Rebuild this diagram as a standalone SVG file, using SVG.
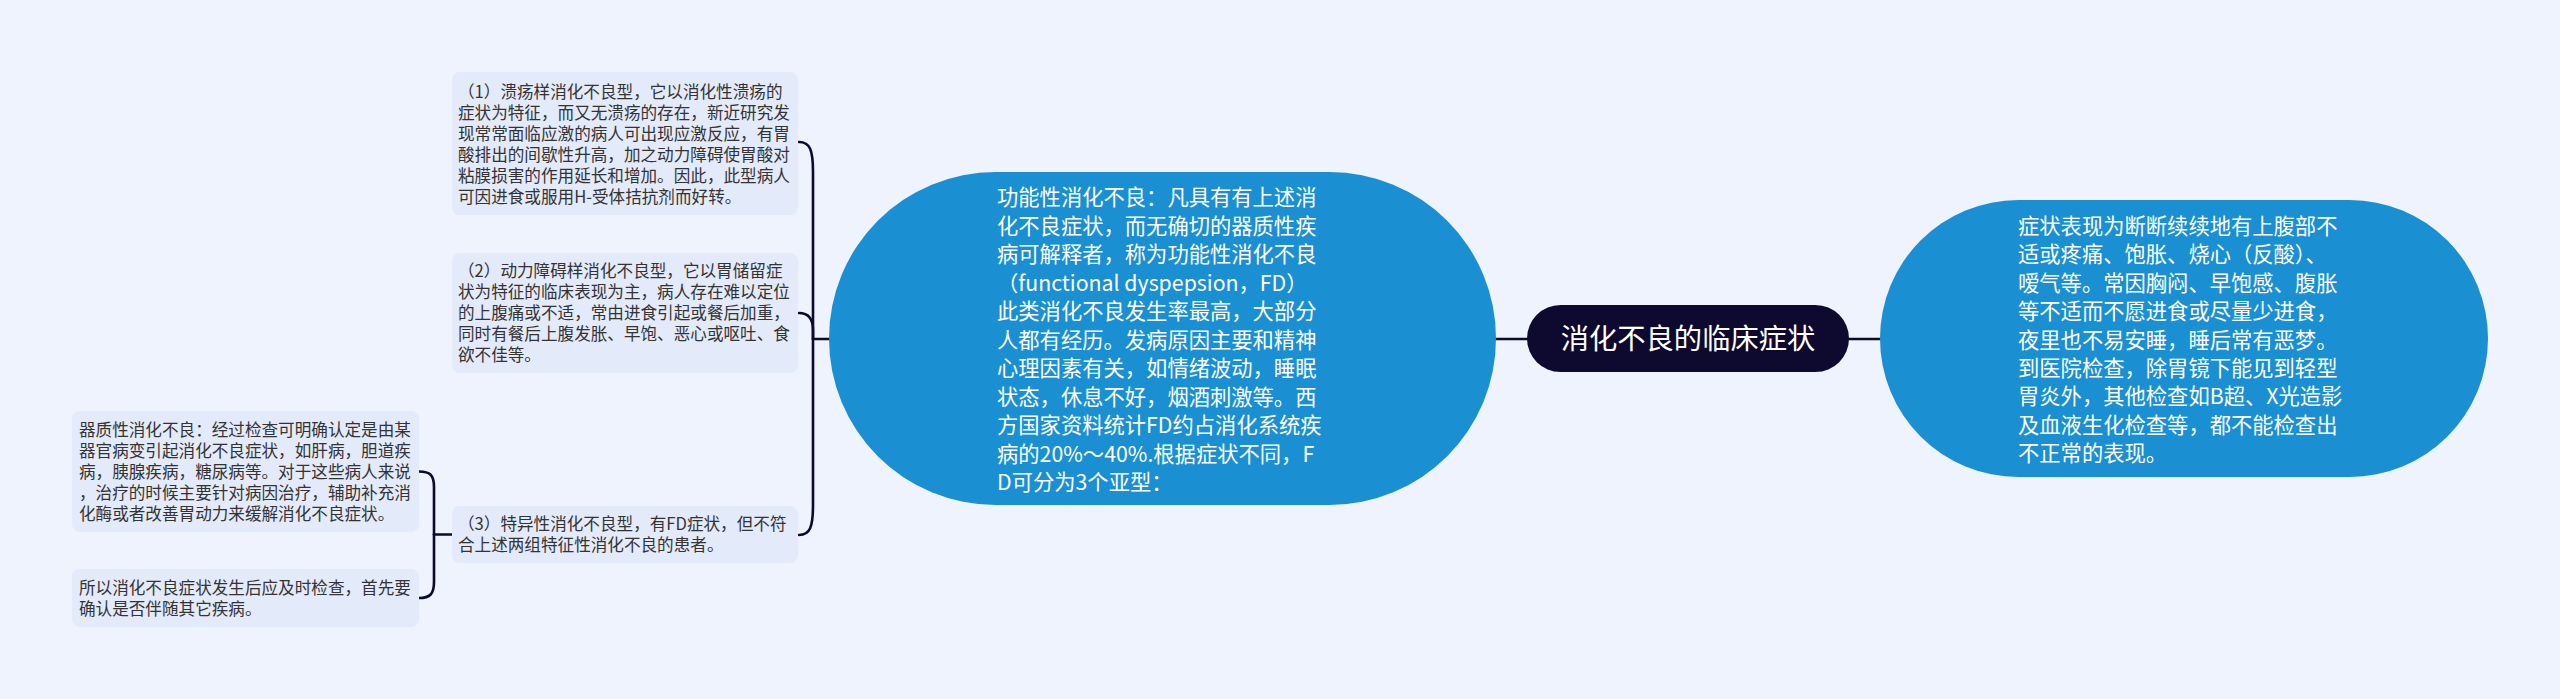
<svg xmlns="http://www.w3.org/2000/svg" width="2560" height="699" viewBox="0 0 2560 699">
<style>
.bg{fill:#eef3fd}
.box{fill:#e3eafa}
.blue{fill:#1a8fd2}
.root{fill:#0e0a2f}
.t{font-family:"Noto Sans CJK SC","Liberation Sans",sans-serif;font-size:16.6px;fill:#333333}
.tw{font-family:"Noto Sans CJK SC","Liberation Sans",sans-serif;font-size:21.3px;fill:#ffffff}
.tr{font-family:"Noto Sans CJK SC","Liberation Sans",sans-serif;font-size:28.3px;fill:#ffffff}
.c{fill:none;stroke:#0e0a2f;stroke-width:2.6;stroke-linecap:round}
</style>
<rect class="bg" x="0" y="0" width="2560" height="699"/>
<g id="connectors">
<path class="c" d="M1496,339 H1527"/>
<path class="c" d="M1849,339 H1880"/>
<path class="c" d="M829,339 H813"/>
<path class="c" d="M799,142 C810,142 813,150 813,172 V339"/>
<path class="c" d="M799,313 C809,313 813,319 813,330 V339"/>
<path class="c" d="M799,535 C810,535 813,527 813,505 V339"/>
<path class="c" d="M452,534.5 H434"/>
<path class="c" d="M419,471.5 C430,471.5 434,475 434,487 V534.5"/>
<path class="c" d="M419,598 C430,598 434,594 434,582 V534.5"/>
</g>
<g id="root">
<rect class="root" x="1527" y="305" width="322" height="67" rx="33.5"/>
<text class="tr" x="1688" y="349" text-anchor="middle">消化不良的临床症状</text>
</g>
<g id="fd">
<rect class="blue" x="829" y="172" width="667" height="333" rx="166.5"/>
<text class="tw">
<tspan x="997" y="205">功能性消化不良：凡具有有上述消</tspan>
<tspan x="997" y="233.5">化不良症状，而无确切的器质性疾</tspan>
<tspan x="997" y="262">病可解释者，称为功能性消化不良</tspan>
<tspan x="997" y="290.5">（functional dyspepsion，FD）</tspan>
<tspan x="997" y="319">此类消化不良发生率最高，大部分</tspan>
<tspan x="997" y="347.5">人都有经历。发病原因主要和精神</tspan>
<tspan x="997" y="376">心理因素有关，如情绪波动，睡眠</tspan>
<tspan x="997" y="404.5">状态，休息不好，烟酒刺激等。西</tspan>
<tspan x="997" y="433">方国家资料统计FD约占消化系统疾</tspan>
<tspan x="997" y="461.5">病的20%～40%.根据症状不同，F</tspan>
<tspan x="997" y="490">D可分为3个亚型：</tspan>
</text>
</g>
<g id="symptoms">
<rect class="blue" x="1880" y="200" width="608" height="277" rx="138.5"/>
<text class="tw">
<tspan x="2018" y="234">症状表现为断断续续地有上腹部不</tspan>
<tspan x="2018" y="262.4">适或疼痛、饱胀、烧心（反酸）、</tspan>
<tspan x="2018" y="290.8">嗳气等。常因胸闷、早饱感、腹胀</tspan>
<tspan x="2018" y="319.2">等不适而不愿进食或尽量少进食，</tspan>
<tspan x="2018" y="347.6">夜里也不易安睡，睡后常有恶梦。</tspan>
<tspan x="2018" y="376">到医院检查，除胃镜下能见到轻型</tspan>
<tspan x="2018" y="404.4">胃炎外，其他检查如B超、X光造影</tspan>
<tspan x="2018" y="432.8">及血液生化检查等，都不能检查出</tspan>
<tspan x="2018" y="461.2">不正常的表现。</tspan>
</text>
</g>
<g id="type1">
<rect class="box" x="452" y="72" width="346" height="143" rx="8"/>
<text class="t">
<tspan x="458" y="98">（1）溃疡样消化不良型，它以消化性溃疡的</tspan>
<tspan x="458" y="119">症状为特征，而又无溃疡的存在，新近研究发</tspan>
<tspan x="458" y="140">现常常面临应激的病人可出现应激反应，有胃</tspan>
<tspan x="458" y="161">酸排出的间歇性升高，加之动力障碍使胃酸对</tspan>
<tspan x="458" y="182">粘膜损害的作用延长和增加。因此，此型病人</tspan>
<tspan x="458" y="203">可因进食或服用H-受体拮抗剂而好转。</tspan>
</text>
</g>
<g id="type2">
<rect class="box" x="452" y="253" width="346" height="120" rx="8"/>
<text class="t">
<tspan x="458" y="277">（2）动力障碍样消化不良型，它以胃储留症</tspan>
<tspan x="458" y="298">状为特征的临床表现为主，病人存在难以定位</tspan>
<tspan x="458" y="319">的上腹痛或不适，常由进食引起或餐后加重，</tspan>
<tspan x="458" y="340">同时有餐后上腹发胀、早饱、恶心或呕吐、食</tspan>
<tspan x="458" y="361">欲不佳等。</tspan>
</text>
</g>
<g id="type3">
<rect class="box" x="452" y="506" width="346" height="57" rx="8"/>
<text class="t">
<tspan x="458" y="530">（3）特异性消化不良型，有FD症状，但不符</tspan>
<tspan x="458" y="551">合上述两组特征性消化不良的患者。</tspan>
</text>
</g>
<g id="organic">
<rect class="box" x="72" y="411" width="347" height="121" rx="8"/>
<text class="t">
<tspan x="79" y="435.5">器质性消化不良：经过检查可明确认定是由某</tspan>
<tspan x="79" y="456.5">器官病变引起消化不良症状，如肝病，胆道疾</tspan>
<tspan x="79" y="477.5">病，胰腺疾病，糖尿病等。对于这些病人来说</tspan>
<tspan x="79" y="498.5">，治疗的时候主要针对病因治疗，辅助补充消</tspan>
<tspan x="79" y="519.5">化酶或者改善胃动力来缓解消化不良症状。</tspan>
</text>
</g>
<g id="advice">
<rect class="box" x="72" y="569" width="347" height="58" rx="8"/>
<text class="t">
<tspan x="79" y="594">所以消化不良症状发生后应及时检查，首先要</tspan>
<tspan x="79" y="615">确认是否伴随其它疾病。</tspan>
</text>
</g>
</svg>
